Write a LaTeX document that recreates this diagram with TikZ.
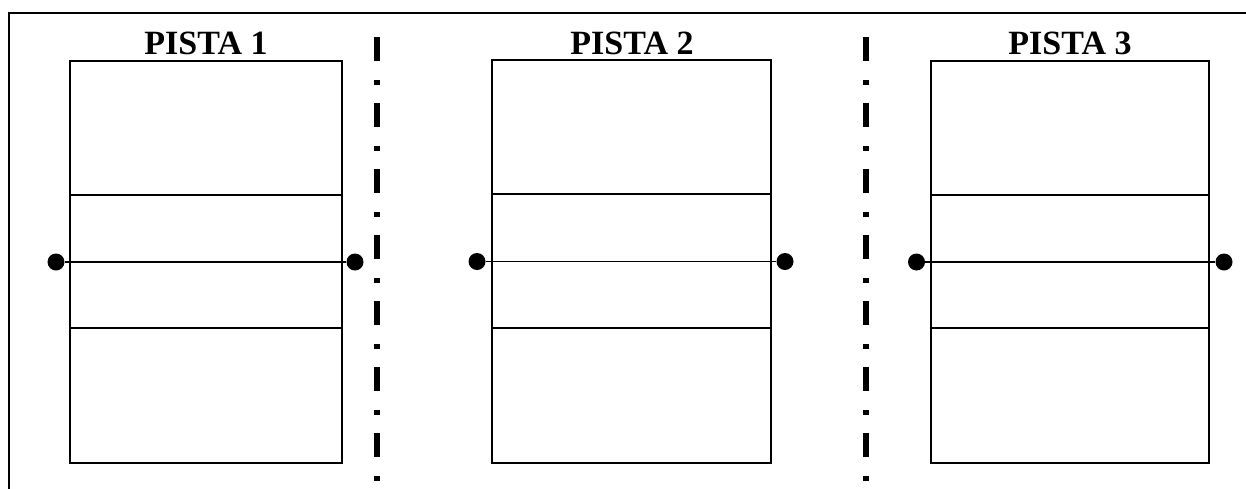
\documentclass[tikz,border=0pt]{standalone}
\usepackage{fontspec}
\setmainfont{Liberation Serif}
\begin{document}
\begin{tikzpicture}[x=1pt,y=-1pt,
  lanebox/.style={draw,line width=1.3pt,inner sep=0pt,outer sep=0pt},
  dotnode/.style={circle,fill=black,inner sep=0pt,minimum size=17pt},
  title/.style={font=\bfseries\fontsize{34}{36}\selectfont,inner sep=0pt},
  sepline/.style={line width=6pt,dash pattern=on 24pt off 19pt on 5pt off 18pt},
  thinline/.style={line width=1.3pt}]
\useasboundingbox (0,0) rectangle (1246,488);
% frame
\draw[line width=2pt] (9,490) -- (9,13) -- (1248,13);
% boxes
\node[lanebox,minimum width=272pt,minimum height=402pt] (b1) at (206,262) {};
\node[lanebox,minimum width=279pt,minimum height=403pt] (b2) at (631.5,261.5) {};
\node[lanebox,minimum width=278pt,minimum height=402pt] (b3) at (1070,262) {};
% titles
\node[title] (t1) at (206,43) {PISTA 1};
\node[title] (t2) at (632,43) {PISTA 2};
\node[title] (t3) at (1070,43) {PISTA 3};
% inner lines
\foreach \b in {b1,b2,b3}{
  \draw[thinline] ([yshift=-134pt]\b.north west) -- ([yshift=-134pt]\b.north east);
  \draw[thinline] ([yshift=135pt]\b.south west) -- ([yshift=135pt]\b.south east);
}
% dots
\node[dotnode] (l1) at (56,262) {};
\node[dotnode] (r1) at (355,262) {};
\node[dotnode] (l2) at (477,261.5) {};
\node[dotnode] (r2) at (785,261.5) {};
\node[dotnode] (l3) at (916.5,262) {};
\node[dotnode] (r3) at (1224,262) {};
\draw[thinline] (l1) -- (r1);
\draw[thinline] (l2) -- (r2);
\draw[thinline] (l3) -- (r3);
% separators
\coordinate (s1a) at (377,37);
\coordinate (s1b) at (377,490);
\coordinate (s2a) at (865.5,37);
\coordinate (s2b) at (865.5,490);
\draw[sepline] (s1a) -- (s1b);
\draw[sepline] (s2a) -- (s2b);
\end{tikzpicture}
\end{document}
